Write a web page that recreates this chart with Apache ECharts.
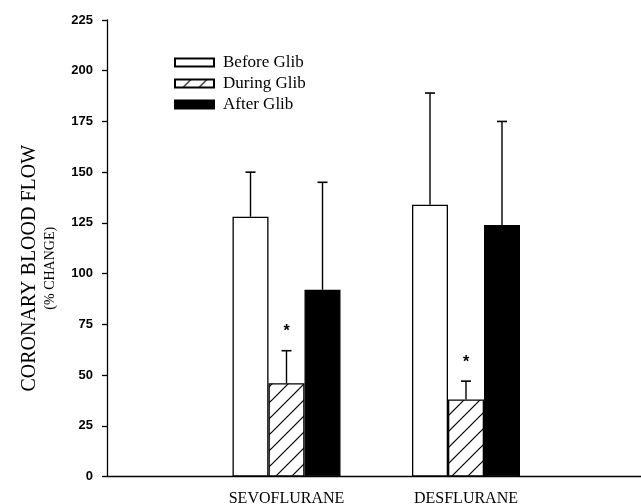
<!DOCTYPE html>
<html><head><meta charset="utf-8">
<script src="https://cdn.jsdelivr.net/npm/echarts@6/dist/echarts.min.js"></script>
<style>html,body{margin:0;padding:0;background:#fff}#c{width:641px;height:504px}</style>
</head><body><div id="c"></div>
<script>
// ---- data ----
const categories = ['', 'SEVOFLURANE', 'DESFLURANE', ''];
const seriesNames = ['Before Glib', 'During Glib', 'After Glib'];
const beforeMean  = [null, 128, 134, null];
const beforeUpper = [null, 150, 189, null];
const duringMean  = [null, 46, 38, null];
const duringUpper = [null, 62, 47, null];
const afterMean   = [null, 92, 124, null];
const afterUpper  = [null, 145, 175, null];
const duringSignificant = [false, true, true, false];
const yMin = 0, yMax = 225, yInterval = 25;

// ---- style ----
const BAR_W = 36;
const SERIF = '"Liberation Serif", "Times New Roman", serif';
const SANS = '"Liberation Sans", Arial, sans-serif';

function hatch() {
  const s = 16, c = document.createElement('canvas');
  c.width = s; c.height = s;
  const g = c.getContext('2d');
  g.fillStyle = '#fff'; g.fillRect(0, 0, s, s);
  g.strokeStyle = '#000'; g.lineWidth = 1.2;
  [[0, s, s, 0], [-s/2, s/2, s/2, -s/2], [s/2, s*1.5, s*1.5, s/2]].forEach(l => {
    g.beginPath(); g.moveTo(l[0], l[1]); g.lineTo(l[2], l[3]); g.stroke();
  });
  return c;
}
const fills = ['#ffffff', {image: hatch(), repeat: 'repeat'}, '#000000'];
const means = [beforeMean, duringMean, afterMean];
const uppers = [beforeUpper, duringUpper, afterUpper];

const errData = [];
means.forEach((m, gi) => m.forEach((v, ci) => {
  if (v != null) errData.push([ci, v, uppers[gi][ci], gi]);
}));
const starData = [];
duringSignificant.forEach((s, ci) => { if (s) starData.push([ci, duringUpper[ci]]); });

const series = seriesNames.map((n, i) => ({
  name: n, type: 'bar', data: means[i], barWidth: BAR_W, barGap: '0%',
  itemStyle: {color: fills[i], borderColor: '#000', borderWidth: 1.3},
  emphasis: {disabled: true}, animation: false
}));
series.push({
  type: 'custom', data: errData, animation: false, silent: true, z: 1,
  renderItem(params, api) {
    const off = (api.value(3) - 1) * BAR_W;
    const p0 = api.coord([api.value(0), api.value(1)]);
    const p1 = api.coord([api.value(0), api.value(2)]);
    const x = p0[0] + off;
    return {type: 'group', children: [
      {type: 'line', shape: {x1: x, y1: p0[1], x2: x, y2: p1[1]}, style: {stroke: '#000', lineWidth: 1.4}},
      {type: 'line', shape: {x1: x - 5, y1: p1[1], x2: x + 5, y2: p1[1]}, style: {stroke: '#000', lineWidth: 1.6}}
    ]};
  }
});
series.push({
  type: 'custom', data: starData, animation: false, silent: true,
  renderItem(params, api) {
    const p = api.coord([api.value(0), api.value(1)]);
    return {type: 'text', style: {x: p[0], y: p[1] - 19, text: '*', font: 'bold 16px ' + SANS,
      fill: '#000', align: 'center', verticalAlign: 'middle'}};
  }
});

const chart = echarts.init(document.getElementById('c'), null, {renderer: 'canvas'});
chart.setOption({
  backgroundColor: '#fff',
  animation: false,
  grid: {left: 107, top: 20, bottom: 27.5, width: 538.5, containLabel: false, outerBoundsMode: 'none'},
  legend: {
    data: seriesNames, orient: 'vertical', left: 174, top: 54, padding: 0, icon: 'rect',
    itemWidth: 39, itemHeight: 8, itemGap: 4, selectedMode: false,
    textStyle: {fontFamily: SERIF, fontSize: 17, color: '#000', lineHeight: 16, padding: [0, 0, 0, 4]}
  },
  xAxis: {
    type: 'category', data: categories, boundaryGap: false,
    axisLine: {lineStyle: {color: '#000', width: 1.3}},
    axisTick: {show: false},
    axisLabel: {fontFamily: SERIF, fontSize: 16, color: '#000', margin: 14, interval: 0},
    splitLine: {show: false}
  },
  yAxis: {
    type: 'value', min: yMin, max: yMax, interval: yInterval,
    axisLine: {show: true, lineStyle: {color: '#000', width: 1.3}},
    axisTick: {show: true, length: 5, lineStyle: {color: '#000', width: 1.3}},
    axisLabel: {fontFamily: SANS, fontWeight: 'bold', fontSize: 13, color: '#000', margin: 14},
    splitLine: {show: false},
    name: '{a|CORONARY BLOOD FLOW}\n{b|(% CHANGE)}',
    nameLocation: 'middle', nameRotate: 90, nameGap: 48,
    nameTextStyle: {
      padding: [0, 40, 0, 0], align: 'center',
      rich: {
        a: {fontFamily: SERIF, fontSize: 20, lineHeight: 22, color: '#000'},
        b: {fontFamily: SERIF, fontSize: 14, lineHeight: 18, color: '#000'}
      }
    }
  },
  series
});
</script></body></html>
